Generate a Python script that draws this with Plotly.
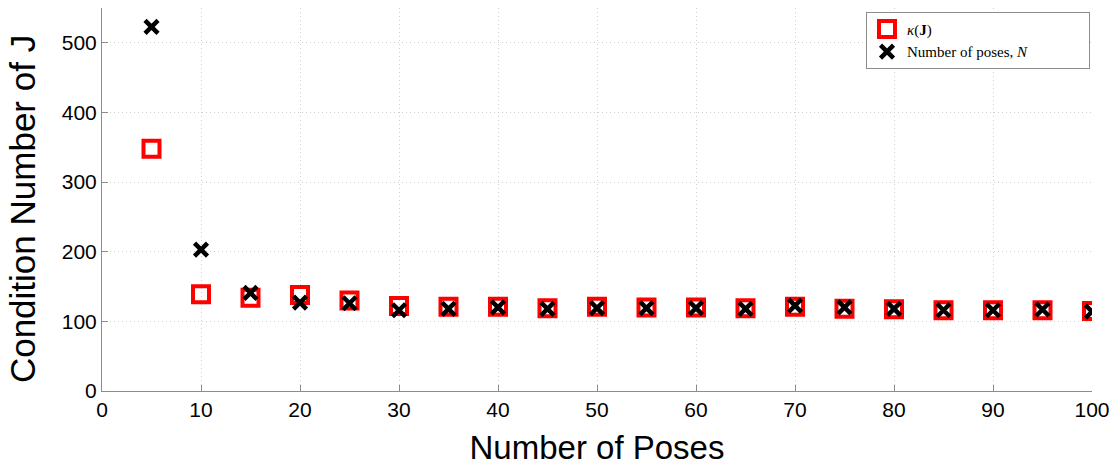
import plotly.graph_objects as go

poses = [5, 10, 15, 20, 25, 30, 35, 40, 45, 50, 55, 60, 65, 70, 75, 80, 85, 90, 95, 100]
kappa_J = [348, 139, 134, 138, 130, 122, 121, 121, 119, 121, 120, 120, 119, 121, 118, 117.5, 116, 116, 116, 115]
num_poses_N = [523, 203, 141, 127, 126, 116, 118, 120, 118, 119, 119, 119, 118, 122.5, 120, 118, 116, 116, 117, 114]

x_ticks = [0, 10, 20, 30, 40, 50, 60, 70, 80, 90, 100]
y_ticks = [0, 100, 200, 300, 400, 500]

pad = "\u00a0" * 15

fig = go.Figure()
fig.add_trace(go.Scatter(
    x=poses, y=kappa_J, mode="markers", name="<i>κ</i>(<b>J</b>)",
    marker=dict(symbol="square-open", size=16, color="#ff0000",
                line=dict(color="#ff0000", width=4)),
))
fig.add_trace(go.Scatter(
    x=poses, y=num_poses_N, mode="markers", name="Number of poses, <i>N</i>" + pad,
    marker=dict(symbol="x-thin", size=13, color="#000000",
                line=dict(color="#000000", width=4.5)),
))

sans = "Liberation Sans, Arial, sans-serif"
axis_common = dict(
    showgrid=True, gridcolor="#cfcfcf", griddash="1px,3px", gridwidth=1,
    showline=True, linecolor="#8c8c8c", linewidth=1,
    ticks="inside", ticklen=6, tickcolor="#8c8c8c",
    zeroline=False, mirror=False, automargin=False,
    tickfont=dict(family=sans, size=21, color="#000"),
)

fig.update_layout(
    width=1120, height=466,
    margin=dict(l=102, r=28, t=8, b=75),
    plot_bgcolor="white", paper_bgcolor="white",
    showlegend=True,
    legend=dict(x=0.998, y=0.99, xanchor="right", yanchor="top",
                bordercolor="#8c8c8c", borderwidth=1, bgcolor="white",
                font=dict(family="Liberation Serif, Times New Roman, serif", size=15, color="#000"),
                itemsizing="trace", tracegroupgap=0),
    xaxis=dict(range=[0, 100], tickvals=x_ticks,
               title=dict(text="Number of Poses", standoff=20,
                          font=dict(family=sans, size=33, color="#000")),
               **axis_common),
    yaxis=dict(range=[0, 550], tickvals=y_ticks, **axis_common),
    annotations=[dict(
        text="Condition Number of J", textangle=-90,
        xref="paper", yref="paper", x=-0.0808, y=0.475,
        xanchor="center", yanchor="middle", showarrow=False,
        font=dict(family=sans, size=35, color="#000"),
    )],
)

fig.write_html("out.html", config={"displayModeBar": False},
               post_script="document.body.style.margin='0px';")
